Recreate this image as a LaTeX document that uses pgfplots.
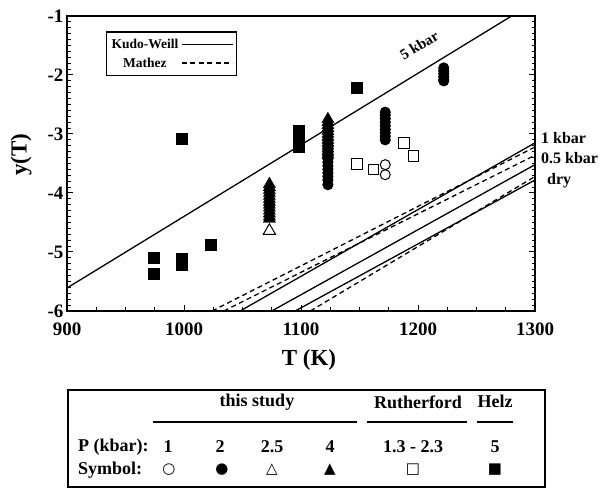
\documentclass[border=0pt]{standalone}
\usepackage{pgfplots}
\pgfplotsset{compat=1.18}
\usepackage{fontspec}
\setmainfont{Liberation Serif}
\newfontfamily\symfont{DejaVu Sans}
\begin{document}
\begin{tikzpicture}[x=1pt,y=1pt]
\useasboundingbox (0,0) rectangle (605,489);
\begin{axis}[
  at={(67pt,178pt)}, anchor=south west,
  scale only axis, width=468pt, height=295pt,
  xmin=900, xmax=1300, ymin=-6, ymax=-1,
  xtick={900,1000,1100,1200,1300},
  xticklabels={900,1000,1100,1200,1300},
  ytick={-6,-5,-4,-3,-2,-1},
  yticklabels={-6,-5,-4,-3,-2,-1},
  minor x tick num=3, minor y tick num=9,
  tick align=inside,
  xtick pos=bottom, ytick pos=both,
  major tick length=6pt, minor tick length=3.5pt,
  every tick/.style={black, line width=1pt},
  axis line style={line width=1.8pt},
  ticklabel style={font=\fontsize{19}{19}\selectfont\bfseries},
  xticklabel style={yshift=-8pt},
  xlabel={T (K)},
  xlabel style={at={(axis description cs:0.517,-0.165)}, anchor=center, font=\fontsize{23}{23}\selectfont\bfseries},
  ylabel={y(T)},
  ylabel style={at={(axis description cs:-0.098,0.53)}, anchor=center, rotate=0, font=\fontsize{23}{23}\selectfont\bfseries},
  legend style={at={(axis description cs:0.083,0.949)}, anchor=north west, draw=black, line width=1.5pt,
    font=\fontsize{13.5}{14}\selectfont\bfseries, inner xsep=3pt, inner ysep=5pt,
    row sep=4pt, column sep=1pt, nodes={inner sep=2pt}},
  legend cell align=center,
  legend plot pos=right,
  legend image code/.code={\draw[#1, line width=1.2pt] (0pt,0pt) -- (51pt,0pt);},
]
\addlegendimage{solid}
\addlegendimage{dash pattern=on 5pt off 3.5pt}
\legend{Kudo-Weill, Mathez}

% Kudo-Weill (solid) lines
\addplot[black, line width=1.3pt, forget plot] coordinates {(900,-5.61) (1280,-1)};
\addplot[black, line width=1.3pt, forget plot] coordinates {(1048,-6) (1300,-3.15)};
\addplot[black, line width=1.3pt, forget plot] coordinates {(1075,-6) (1300,-3.52)};
\addplot[black, line width=1.3pt, forget plot] coordinates {(1095,-6) (1300,-3.78)};
% Mathez (dashed) lines
\addplot[black, line width=1.3pt, dash pattern=on 5pt off 3.5pt, forget plot] coordinates {(1024,-6) (1300,-3.22)};
\addplot[black, line width=1.3pt, dash pattern=on 5pt off 3.5pt, forget plot] coordinates {(1034,-6) (1300,-3.36)};
\addplot[black, line width=1.3pt, dash pattern=on 5pt off 3.5pt, forget plot] coordinates {(1108,-6) (1300,-3.72)};

% Helz, 5 kbar: filled squares
\addplot[only marks, mark=square*, mark size=5.5pt, black, forget plot] coordinates {
 (974,-5.10) (974,-5.36) (998,-5.12) (998,-5.22) (1023,-4.87) (998,-3.08)
 (1098,-2.95) (1098,-3.04) (1098,-3.13) (1098,-3.22) (1148,-2.22)};
% this study, 2 kbar: filled circles
\addplot[only marks, mark=*, mark size=5.3pt, black, forget plot] coordinates {
 (1222,-1.88) (1222,-1.93) (1222,-1.98) (1222,-2.03) (1222,-2.08) (1222,-2.10)
 (1172,-2.63) (1172,-2.68) (1172,-2.74) (1172,-2.80) (1172,-2.86) (1172,-2.92) (1172,-2.98) (1172,-3.04) (1172,-3.10)
 (1123,-3.30) (1123,-3.36) (1123,-3.42) (1123,-3.48) (1123,-3.54) (1123,-3.60) (1123,-3.66) (1123,-3.72) (1123,-3.78) (1123,-3.86)};
% this study, 4 kbar: filled triangles
\addplot[only marks, mark=triangle*, mark size=7pt, black, forget plot] coordinates {
 (1073,-3.85) (1073,-3.90) (1073,-3.95) (1073,-4.00) (1073,-4.05) (1073,-4.10) (1073,-4.15) (1073,-4.20) (1073,-4.25) (1073,-4.30) (1073,-4.35) (1073,-4.40) (1073,-4.44)
 (1123,-2.75) (1123,-2.80) (1123,-2.85) (1123,-2.90) (1123,-2.95) (1123,-3.00) (1123,-3.05) (1123,-3.10) (1123,-3.15) (1123,-3.20) (1123,-3.25) (1123,-3.30) (1123,-3.35)};
% this study, 2.5 kbar: open triangle
\addplot[only marks, mark=triangle, mark size=7pt, black, mark options={line width=1pt, fill=white}, forget plot] coordinates {
 (1073,-4.64)};
% Rutherford: open squares
\addplot[only marks, mark=square, mark size=5.3pt, black, mark options={line width=1pt, fill=white}, forget plot] coordinates {
 (1148,-3.51) (1162,-3.60) (1188,-3.15) (1196,-3.37)};
% this study, 1 kbar: open circles
\addplot[only marks, mark=o, mark size=5pt, black, mark options={line width=1pt, fill=white}, forget plot] coordinates {
 (1172,-3.52) (1172,-3.69)};

\node[rotate=31.4, font=\fontsize{15}{15}\selectfont\bfseries, inner sep=1pt] at (axis cs:1201,-1.50) {5 kbar};
\end{axis}

\node[anchor=west, font=\fontsize{16}{16}\selectfont\bfseries, inner sep=0pt] at (541,351) {1 kbar};
\node[anchor=west, font=\fontsize{16}{16}\selectfont\bfseries, inner sep=0pt] at (541,331) {0.5 kbar};
\node[anchor=west, font=\fontsize{16}{16}\selectfont\bfseries, inner sep=0pt] at (547,308) {dry};

% table legend below the chart
\draw[line width=1.3pt] (68,2) rectangle (545,99);
\begin{scope}[every node/.style={font=\fontsize{18}{18}\selectfont\bfseries, inner sep=0pt}]
\node at (257,87) {this study};
\node at (418,87) {Rutherford};
\node at (495,88) {Helz};
\draw[line width=1.3pt] (153,67) -- (357,67);
\draw[line width=1.3pt] (367,67) -- (467,67);
\draw[line width=1.3pt] (477,67) -- (513,67);
\node[anchor=west] at (78,42) {P (kbar):};
\node at (168,42) {1};
\node at (220,42) {2};
\node at (272,42) {2.5};
\node at (330,42) {4};
\node at (413,42) {1.3 - 2.3};
\node at (495,42) {5};
\node[anchor=west] at (78,19) {Symbol:};
\end{scope}
\begin{scope}[every node/.style={font=\symfont\fontsize{15}{15}\selectfont, inner sep=0pt}]
\node at (169,19) {○};
\node at (222,19) {●};
\node at (272,19) {△};
\node at (330,19) {▲};
\node at (413,19) {□};
\node at (495,19) {■};
\end{scope}
\end{tikzpicture}
\end{document}
